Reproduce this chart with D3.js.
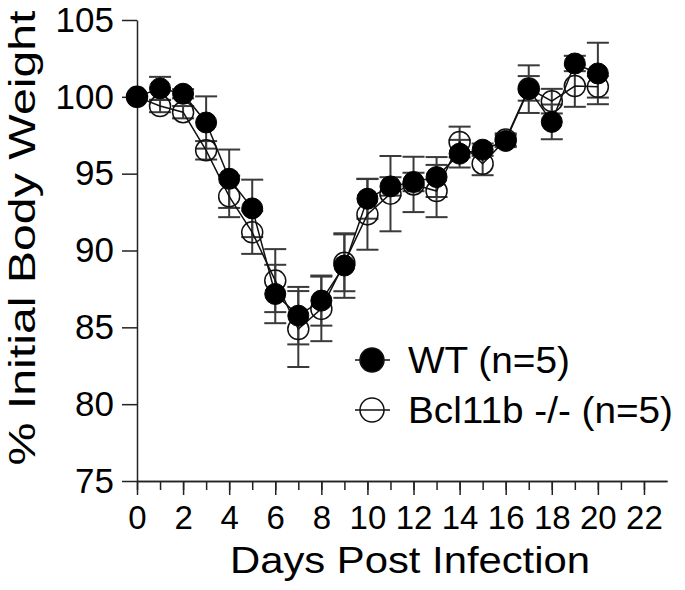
<!DOCTYPE html>
<html>
<head>
<meta charset="utf-8">
<script src="https://cdn.jsdelivr.net/npm/d3@7"></script>
<style>
  html, body { margin: 0; padding: 0; background: #fff; }
  svg { display: block; font-family: "Liberation Sans", Arial, sans-serif; }
</style>
</head>
<body>
<svg id="chart" width="685" height="590"></svg>
<script>
// ---- Data ----
const days = [0,1,2,3,4,5,6,7,8,9,10,11,12,13,14,15,16,17,18,19,20];
const wtMean = [100, 100.55, 100.2, 98.33, 94.67, 92.74, 87.17, 85.76, 86.74, 89.02, 93.37, 94.17, 94.46, 94.78, 96.3, 96.56, 97.13, 100.5, 98.37, 102.17, 101.52];
const wtErr  = [0, 0.75, 0.3, 1.7, 1.9, 1.87, 1.9, 1.87, 1.63, 2.1, 1.3, 0.6, 0.6, 1.3, 0.9, 0.4, 0.4, 1.55, 1.13, 0.5, 2.0];
const koMean = [100, 99.4, 99.0, 96.52, 93.52, 91.18, 88.04, 84.89, 86.2, 89.2, 92.35, 93.7, 94.3, 93.87, 97.06, 95.65, 97.22, 100.55, 99.72, 100.7, 100.65];
const koErr  = [0, 0.4, 0.4, 0.6, 1.35, 1.4, 2.05, 2.47, 2.1, 1.85, 2.3, 2.45, 1.8, 1.7, 1.0, 0.75, 0.4, 0.8, 0.8, 1.35, 0.7];
const yTicks = [75, 80, 85, 90, 95, 100, 105];
const xMinorTicks = d3.range(0, 23);
const xMajorTicks = [0, 2, 4, 6, 8, 10, 12, 14, 16, 18, 20, 22];
const seriesNames = ["WT (n=5)", "Bcl11b -/- (n=5)"];
const xTitle = "Days Post Infection";
const yTitle = "% Initial Body Weight";

// ---- Scales ----
const svg = d3.select("#chart");
const x = d3.scaleLinear().domain([0, 23]).range([137, 667]);
const y = d3.scaleLinear().domain([75, 105]).range([481, 20]);

const wt = days.map((d, i) => ({ d, m: wtMean[i], e: wtErr[i] }));
const ko = days.map((d, i) => ({ d, m: koMean[i], e: koErr[i] }));

// ---- Axes ----
const axisColor = "#222";
const yAxis = svg.append("g").attr("transform", `translate(${x(0)},0)`)
  .call(d3.axisLeft(y).tickValues(yTicks).tickSize(15).tickSizeOuter(0).tickPadding(8).tickFormat(d3.format("d")));
const xMinor = svg.append("g").attr("transform", `translate(0,${y(75)})`)
  .call(d3.axisBottom(x).tickValues(xMinorTicks).tickSize(9).tickSizeOuter(0).tickFormat(""));
const xMajor = svg.append("g").attr("transform", `translate(0,${y(75)})`)
  .call(d3.axisBottom(x).tickValues(xMajorTicks).tickSize(14).tickSizeOuter(0).tickPadding(11).tickFormat(d3.format("d")));

[yAxis, xMinor, xMajor].forEach(g => {
  g.selectAll("path.domain").attr("stroke", axisColor).attr("stroke-width", 1.5);
  g.selectAll(".tick line").attr("stroke", axisColor).attr("stroke-width", 1.5);
  g.selectAll(".tick text").attr("fill", "#000").style("font-size", "33px")
    .style("font-family", '"Liberation Sans", Arial, sans-serif');
});
yAxis.selectAll(".tick text").style("font-size", "35px");

// ---- Error bars ----
const capHalf = 11;
function errorBars(data, color) {
  const g = svg.append("g").attr("stroke", color).attr("stroke-width", 2).attr("fill", "none");
  data.filter(p => p.e > 0).forEach(p => {
    const cx = x(p.d), top = y(p.m + p.e), bot = y(p.m - p.e);
    g.append("line").attr("x1", cx).attr("x2", cx).attr("y1", top).attr("y2", bot);
    g.append("line").attr("x1", cx - capHalf).attr("x2", cx + capHalf).attr("y1", top).attr("y2", top);
    g.append("line").attr("x1", cx - capHalf).attr("x2", cx + capHalf).attr("y1", bot).attr("y2", bot);
  });
}
errorBars(ko, "#3a3a3a");
errorBars(wt, "#3a3a3a");

// ---- Lines ----
const line = d3.line().x(p => x(p.d)).y(p => y(p.m));
svg.append("path").datum(ko).attr("d", line).attr("fill", "none").attr("stroke", "#111").attr("stroke-width", 1.5);
svg.append("path").datum(wt).attr("d", line).attr("fill", "none").attr("stroke", "#111").attr("stroke-width", 1.5);

// ---- Markers ----
const r = 10.5;
svg.append("g").selectAll("circle").data(ko).join("circle")
  .attr("cx", p => x(p.d)).attr("cy", p => y(p.m)).attr("r", r)
  .attr("fill", "none").attr("stroke", "#111").attr("stroke-width", 1.5);
svg.append("g").selectAll("circle").data(wt).join("circle")
  .attr("cx", p => x(p.d)).attr("cy", p => y(p.m)).attr("r", r)
  .attr("fill", "#000").attr("stroke", "#000").attr("stroke-width", 1);

// ---- Titles ----
svg.append("text").attr("x", 410).attr("y", 573).attr("text-anchor", "middle")
  .style("font-size", "36px").attr("fill", "#000")
  .attr("textLength", 360).attr("lengthAdjust", "spacingAndGlyphs").text(xTitle);
svg.append("text").attr("transform", "translate(35,238) rotate(-90)").attr("text-anchor", "middle")
  .style("font-size", "37px").attr("fill", "#000")
  .attr("textLength", 455).attr("lengthAdjust", "spacingAndGlyphs").text(yTitle);

// ---- Legend ----
const legendRows = [
  { name: seriesNames[0], cy: 360, filled: true, len: 162 },
  { name: seriesNames[1], cy: 410, filled: false, len: 265 }
];
const lg = svg.append("g");
legendRows.forEach(row => {
  lg.append("line").attr("x1", 355).attr("x2", 390).attr("y1", row.cy).attr("y2", row.cy)
    .attr("stroke", "#111").attr("stroke-width", 1.5);
  lg.append("circle").attr("cx", 372).attr("cy", row.cy).attr("r", 12)
    .attr("fill", row.filled ? "#000" : "none").attr("stroke", "#111").attr("stroke-width", 1.5);
  lg.append("text").attr("x", 408).attr("y", row.cy + 13).style("font-size", "36px").attr("fill", "#000")
    .attr("textLength", row.len).attr("lengthAdjust", "spacingAndGlyphs").text(row.name);
});
</script>
</body>
</html>
